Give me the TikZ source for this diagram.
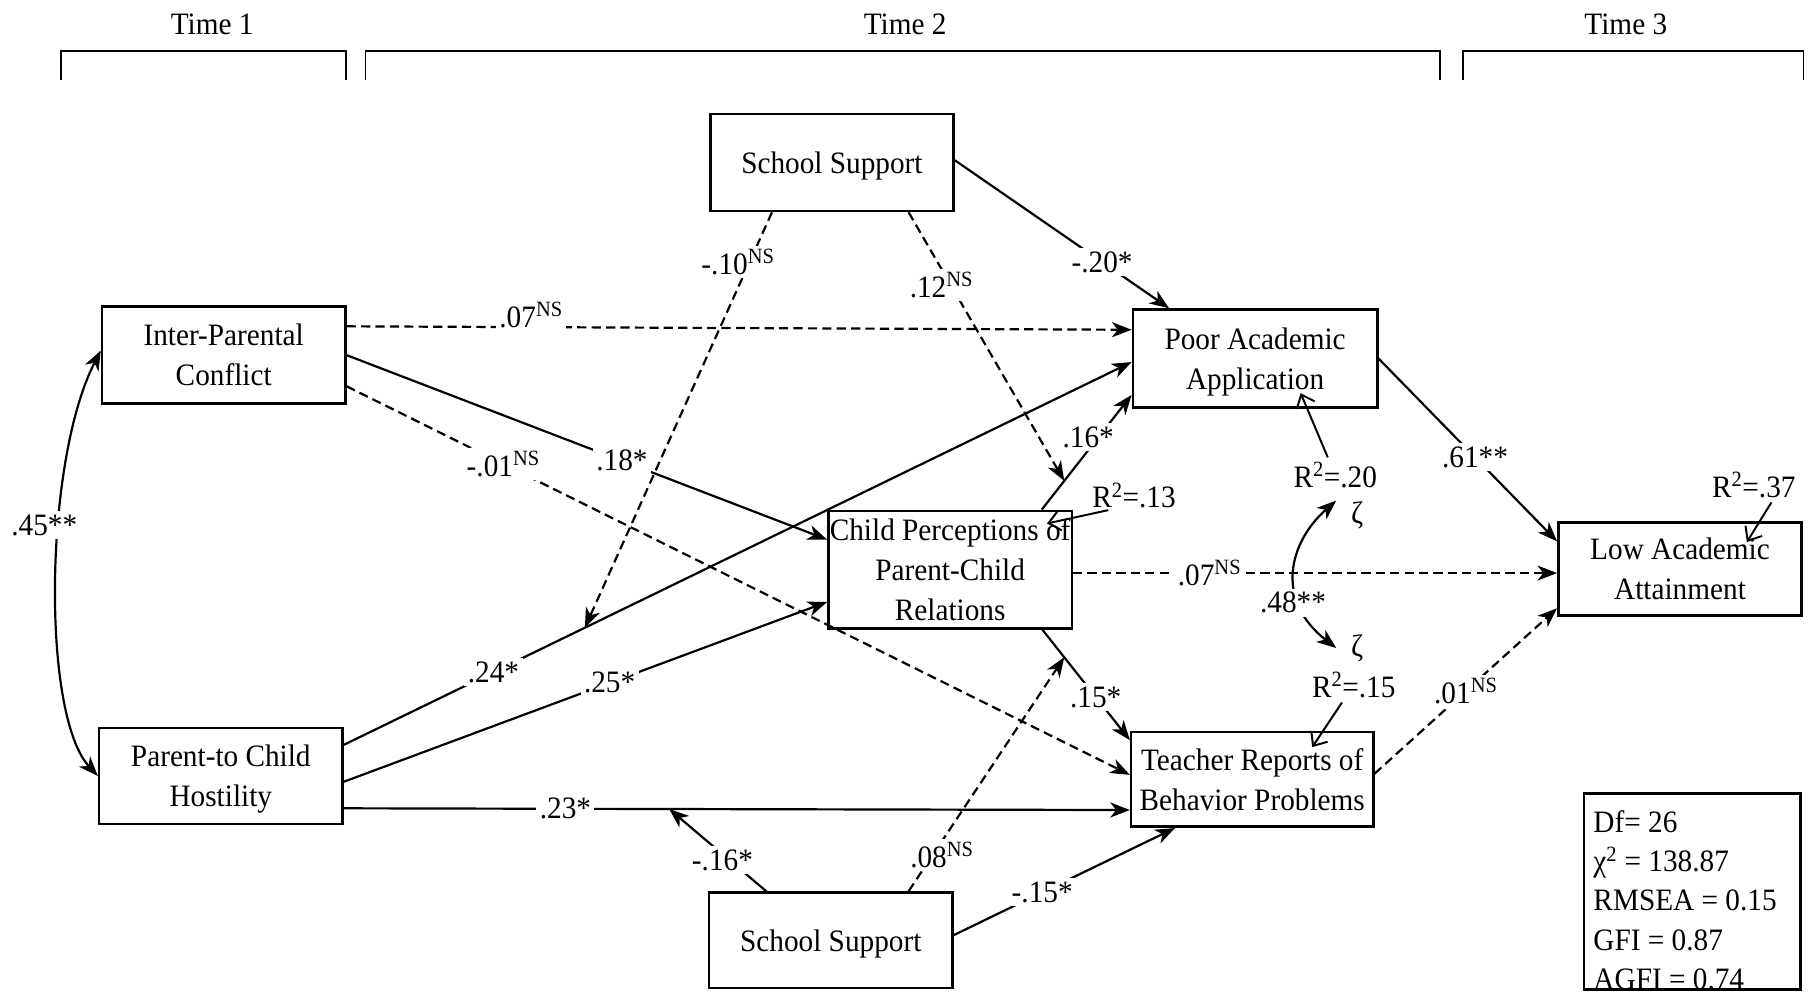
\documentclass[tikz,border=0pt]{standalone}
\usepackage{fontspec}
\setmainfont{Liberation Serif}[FakeStretch=0.94]
\usetikzlibrary{arrows.meta}

\begin{document}
\begin{tikzpicture}[x=1pt,y=-1pt,line width=1.9pt,
    font=\fontsize{27}{34.6}\selectfont,
    >={Stealth[length=17pt,width=13pt,inset=5pt]},
    var/.style={draw,line width=2.2pt,minimum width=211pt,minimum height=84pt,
      inner sep=0pt,align=center,text depth=-10pt},
    coef/.style={fill=white,inner sep=3pt},
    ns/.style={dash pattern=on 8pt off 4.5pt},
    res/.style={line width=1.7pt,-{Straight Barb[length=10pt,width=17pt]}}]
  \useasboundingbox (0,0) rectangle (1568,861);
  \node (t1) at (184,21) {Time 1};
  \node (t2) at (785,21) {Time 2};
  \node (t3) at (1410,21) {Time 3};
  \foreach \a/\b in {53/300,317/1249,1269/1564}
    \draw [line width=1.5pt] (\a,69) -- (\a,44) -- (\b,44) -- (\b,69);
  \node (ss1) [var] at (721.5,141) {School Support};
  \node (ipc) [var] at (194,308) {Inter-Parental\\Conflict};
  \node (paa) [var,minimum width=212pt,minimum height=85pt] at (1088.5,311) {Poor Academic\\Application};
  \node (cpr) [var,minimum height=102pt] at (824,494) {Child Perceptions of\\Parent-Child\\Relations};
  \node (laa) [var,minimum height=81pt] at (1457,493.5) {Low Academic\\Attainment};
  \node (pch) [var,minimum height=83pt] at (191.5,673) {Parent-to Child\\Hostility};
  \node (trb) [var,minimum width=210pt,minimum height=82pt] at (1086,676) {Teacher Reports of\\Behavior Problems};
  \node (ss2) [var,minimum height=83pt] at (720.5,815.5) {School Support};
  \node (r13) [inner sep=1pt] at (983.5,429.5) {R\textsuperscript{2}=.13};
  \node (r20) at (1158,412) {R\textsuperscript{2}=.20};
  \node (z1) [inner sep=0pt] at (1177,447) {ζ};
  \node (z2) [inner sep=0pt] at (1177,562) {ζ};
  \node (r15) at (1174,594) {R\textsuperscript{2}=.15};
  \node (r37) at (1521,420.5) {R\textsuperscript{2}=.37};
  \node (gof) [draw,line width=2.2pt,minimum width=188pt,minimum height=170pt] at (1467.6,773) {};
  \node (goft) [anchor=north west,align=left,inner sep=0pt,font=\fontsize{27}{34}\selectfont]
    at (1381,702) {Df= 26\\χ\textsuperscript{2} = 138.87\\RMSEA = 0.15\\GFI = 0.87\\AGFI = 0.74};
  \draw [<->] ([yshift=4pt]ipc.west) .. controls (38,400) and (36,620) .. node [coef,pos=.39,xshift=-13pt] {.45**} (pch.west);
  \draw [->,ns] ([yshift=25pt]ipc.east) -- node [coef,pos=.235,anchor=base] {.07\textsuperscript{NS}} ([yshift=25pt]paa.west);
  \draw [->] (ipc.east) -- node [coef,pos=.573] {.18*} ([yshift=26pt]cpr.west);
  \draw [->,ns] ([yshift=-27pt]ipc.east) -- node [coef,pos=.2] {-.01\textsuperscript{NS}} ([yshift=4pt]trb.west);
  \draw [->] ([yshift=2pt]ss1.east) -- node [coef,pos=.687] {-.20*} ([xshift=-74.5pt]paa.north);
  \draw [->] ([yshift=27pt]pch.east) -- node [coef,pos=.19] {.24*} coordinate [pos=.306] (m1) ([yshift=-3pt]paa.west);
  \draw [->] ([yshift=-5pt]pch.east) -- node [coef,pos=.55] {.25*} ([yshift=-28pt]cpr.west);
  \draw [->] ([yshift=-28pt]pch.east) -- node [coef,pos=.282] {.23*} coordinate [pos=.414] (m3) ([yshift=-26.5pt]trb.west);
  \draw [->] ([xshift=79.5pt]cpr.north) -- node [coef,pos=.632,xshift=-9pt] {.16*} coordinate [pos=.25] (m2) ([yshift=-31.5pt]paa.west);
  \draw [->,ns] ([yshift=-3pt]cpr.east) -- node [coef,pos=.282] {.07\textsuperscript{NS}} ([yshift=-3.5pt]laa.west);
  \draw [->] ([xshift=80pt]cpr.south) -- node [coef,pos=.61] {.15*} coordinate [pos=.25] (m4) ([yshift=-8pt]trb.north west);
  \draw [->] (paa.east) -- node [coef,pos=.54] {.61**} ([yshift=24pt]laa.west);
  \draw [->,ns] ([yshift=5pt]trb.east) -- node [coef,pos=.5] {.01\textsuperscript{NS}} ([yshift=-34pt]laa.west);
  \draw [->] ([yshift=4.5pt]ss2.east) -- node [coef,pos=.4] {-.15*} ([xshift=-67pt]trb.south);
  \draw [->,ns] ([xshift=-52pt]ss1.south) -- node [coef,pos=.12,xshift=-10pt] {-.10\textsuperscript{NS}} (m1);
  \draw [->,ns] ([xshift=66.5pt]ss1.south) -- node [coef,pos=.27,xshift=-8pt] {.12\textsuperscript{NS}} (m2);
  \draw [->] ([xshift=-56pt]ss2.north) -- node [coef,pos=.38,xshift=-6pt] {-.16*} (m3);
  \draw [->,ns] ([xshift=67.5pt]ss2.north) -- node [coef,pos=.155,xshift=8pt] {.08\textsuperscript{NS}} (m4);
  \draw [<->] ([xshift=-12pt]z2.west) .. controls (1105,520) and (1118,470) .. node [coef,pos=.3,xshift=-6pt] {.48**} ([xshift=-12pt]z1.north west);
  \draw [res] (r13.-150) -- ([xshift=84pt,yshift=40pt]cpr.center);
  \draw [res] (r20) -- ([xshift=39.5pt,yshift=-30pt]paa.center);
  \draw [res] (r15) -- ([xshift=52pt,yshift=28pt]trb.center);
  \draw [res] (r37.-45) -- ([xshift=58pt,yshift=23.5pt]laa.center);
\end{tikzpicture}
\end{document}
